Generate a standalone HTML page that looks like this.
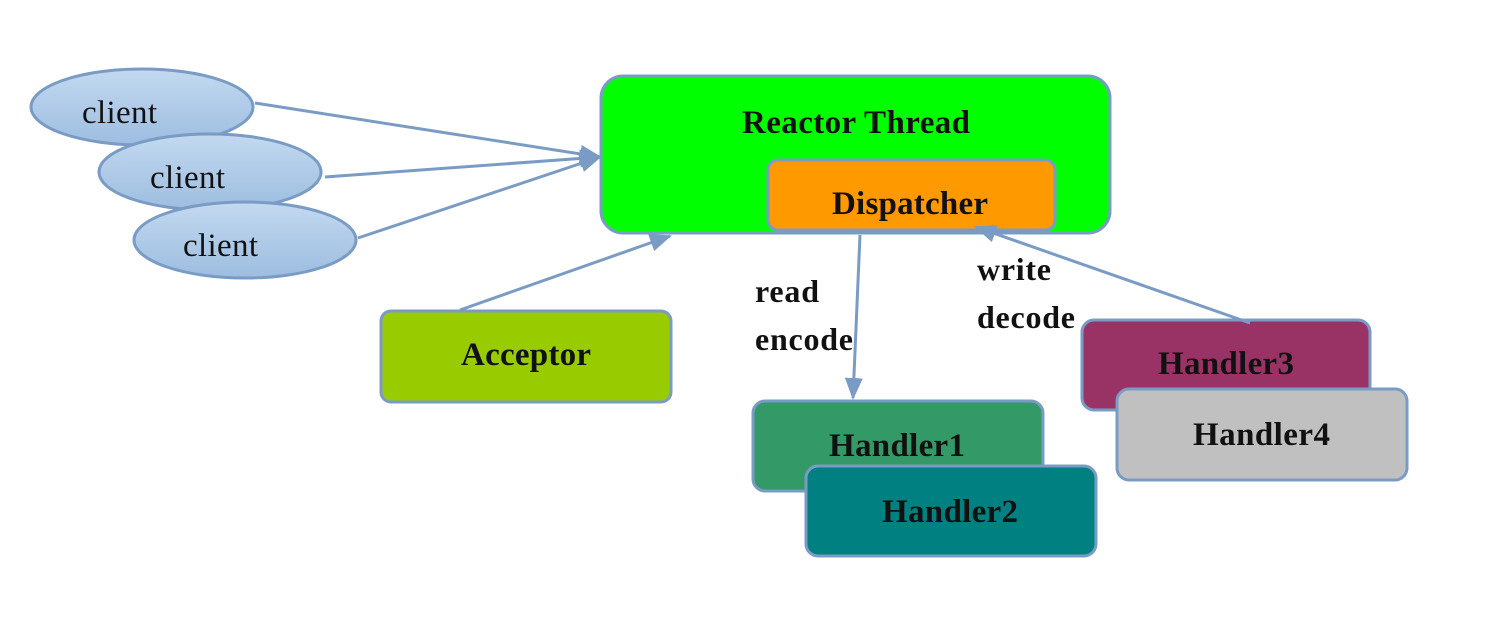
<!DOCTYPE html>
<html><head><style>
body{margin:0;background:#fff;}
svg{display:block;}
text{font-family:"Liberation Serif",serif;font-weight:bold;fill:#111;}
</style></head><body>
<svg width="1486" height="642" viewBox="0 0 1486 642" xmlns="http://www.w3.org/2000/svg">
<defs>
<linearGradient id="cg" x1="0" y1="0" x2="0" y2="1">
<stop offset="0" stop-color="#c3d9f0"/><stop offset="1" stop-color="#9dbde0"/>
</linearGradient>
<marker id="ah2" markerWidth="22" markerHeight="18" refX="20" refY="9" orient="auto" markerUnits="userSpaceOnUse">
<path d="M0,0 L22,9 L0,18 z" fill="#7a9cc4"/>
</marker>
<clipPath id="dc"><rect x="768" y="160" width="287" height="70"/></clipPath>
</defs>
<g stroke="#7a9cc4" stroke-width="3">
<ellipse cx="142" cy="107" rx="111" ry="38" fill="url(#cg)"/>
<ellipse cx="210" cy="172" rx="111" ry="38" fill="url(#cg)"/>
<ellipse cx="245" cy="240" rx="111" ry="38" fill="url(#cg)"/>
</g>
<text x="82" y="123" font-size="33" style="font-weight:normal" textLength="75">client</text>
<text x="150" y="188" font-size="33" style="font-weight:normal" textLength="75">client</text>
<text x="183" y="256" font-size="33" style="font-weight:normal" textLength="75">client</text>
<g stroke="#7a9cc4" stroke-width="3">
<rect x="601" y="76" width="509" height="157" rx="22" fill="#00ff00"/>
<rect x="768" y="160" width="287" height="70" rx="10" fill="#ff9900"/>
<rect x="381" y="311" width="290" height="91" rx="10" fill="#99cc00"/>
<rect x="753" y="401" width="290" height="90" rx="12" fill="#339966"/>
<rect x="806" y="466" width="290" height="90" rx="12" fill="#008080"/>
<rect x="1082" y="320" width="288" height="90" rx="12" fill="#993366"/>
<rect x="1117" y="389" width="290" height="91" rx="12" fill="#c0c0c0"/>
</g>
<g stroke="#7a9cc4" stroke-width="3" fill="none">
<line x1="255" y1="103" x2="600" y2="157" marker-end="url(#ah2)"/>
<line x1="325" y1="177" x2="600" y2="157" marker-end="url(#ah2)"/>
<line x1="358" y1="238" x2="600" y2="157" marker-end="url(#ah2)"/>
<line x1="460" y1="310" x2="670" y2="236" marker-end="url(#ah2)"/>
<line x1="860" y1="235" x2="853" y2="398" marker-end="url(#ah2)"/>
<line x1="1250" y1="323" x2="976" y2="227" marker-end="url(#ah2)"/>
</g>
<text x="742" y="133" font-size="33" textLength="228">Reactor Thread</text>
<text x="832" y="214" font-size="33" textLength="156" clip-path="url(#dc)">Dispatcher</text>
<text x="461" y="365" font-size="33" textLength="130">Acceptor</text>
<text x="829" y="456" font-size="33" textLength="136">Handler1</text>
<text x="882" y="522" font-size="33" textLength="136">Handler2</text>
<text x="1158" y="374" font-size="33" textLength="136">Handler3</text>
<text x="1193" y="445" font-size="33" textLength="137">Handler4</text>
<text x="755" y="302" font-size="32" textLength="64">read</text>
<text x="755" y="350" font-size="32" textLength="98">encode</text>
<text x="977" y="280" font-size="32" textLength="74">write</text>
<text x="977" y="328" font-size="32" textLength="98">decode</text>
</svg>
</body></html>
